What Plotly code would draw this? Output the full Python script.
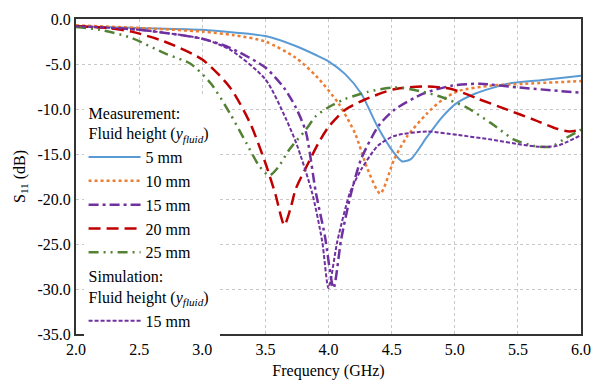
import plotly.graph_objects as go

f_5 = [2.0, 2.5, 3.0, 3.25, 3.5, 3.74, 3.9, 4.0, 4.13, 4.26, 4.39, 4.52, 4.58, 4.65, 4.78, 4.9, 5.01, 5.16, 5.42, 5.68, 6.0]
s_5 = [-0.8, -1.0, -1.2, -1.5, -1.9, -3.0, -4.0, -4.7, -6.1, -8.3, -12.0, -14.9, -15.8, -15.6, -13.1, -10.9, -9.4, -8.3, -7.2, -6.8, -6.3]

f_10 = [2.0, 2.5, 3.0, 3.25, 3.5, 3.74, 3.9, 4.08, 4.21, 4.31, 4.41, 4.52, 4.62, 4.78, 4.9, 5.03, 5.29, 5.55, 6.0]
s_10 = [-0.7, -1.0, -1.4, -1.8, -2.5, -4.3, -6.3, -9.4, -12.7, -16.7, -19.4, -15.6, -13.1, -10.5, -9.0, -8.0, -7.4, -7.2, -6.9]

f_15 = [2.0, 2.5, 3.0, 3.22, 3.5, 3.65, 3.74, 3.82, 3.9, 3.97, 4.04, 4.1, 4.18, 4.26, 4.4, 4.52, 4.75, 4.98, 5.2, 5.5, 6.0]
s_15 = [-0.8, -1.2, -2.2, -3.2, -5.4, -7.7, -9.8, -12.5, -19.3, -24.0, -29.9, -24.5, -19.3, -15.5, -11.8, -10.1, -8.3, -7.4, -7.2, -7.6, -8.2]

f_20 = [2.0, 2.25, 2.44, 2.7, 3.0, 3.22, 3.38, 3.5, 3.58, 3.65, 3.7, 3.74, 3.84, 3.92, 4.0, 4.13, 4.28, 4.52, 4.78, 4.98, 5.19, 5.42, 5.63, 5.81, 5.91, 6.0]
s_20 = [-0.8, -1.0, -1.4, -2.5, -4.5, -7.6, -11.6, -16.0, -19.5, -22.9, -21.0, -18.9, -16.0, -13.8, -12.0, -10.1, -9.0, -7.8, -7.5, -7.8, -8.9, -10.1, -11.2, -12.2, -12.5, -12.3]

f_25 = [2.0, 2.19, 2.44, 2.7, 2.91, 3.07, 3.22, 3.35, 3.45, 3.53, 3.6, 3.69, 3.82, 3.9, 4.0, 4.13, 4.31, 4.52, 4.72, 4.9, 5.09, 5.29, 5.47, 5.63, 5.76, 5.86, 6.0]
s_25 = [-0.9, -1.2, -2.1, -3.8, -5.0, -7.2, -10.5, -13.8, -16.3, -17.4, -16.5, -14.5, -12.3, -10.8, -9.8, -8.9, -8.1, -7.6, -8.0, -8.7, -9.8, -11.6, -13.4, -14.1, -14.2, -13.4, -12.3]

f_sim = [2.0, 2.5, 3.0, 3.22, 3.5, 3.66, 3.75, 3.87, 3.95, 4.0, 4.07, 4.17, 4.26, 4.39, 4.52, 4.78, 5.03, 5.29, 5.55, 5.68, 5.81, 6.0]
s_sim = [-0.8, -1.2, -2.2, -3.4, -6.7, -11.0, -14.0, -19.3, -24.7, -29.9, -24.7, -19.3, -16.7, -14.1, -13.0, -12.5, -12.9, -13.4, -14.0, -14.2, -14.1, -12.9]

x_ticks = [2.0, 2.5, 3.0, 3.5, 4.0, 4.5, 5.0, 5.5, 6.0]
x_labels = ["2.0", "2.5", "3.0", "3.5", "4.0", "4.5", "5.0", "5.5", "6.0"]
y_ticks = [0, -5, -10, -15, -20, -25, -30, -35]
y_labels = ["0.0", "-5.0", "-10.0", "-15.0", "-20.0", "-25.0", "-30.0", "-35.0"]

FONT = "Liberation Serif"
hdr = "Fluid height (<i>y<sub>fluid</sub></i>)"

fig = go.Figure()
meas = [
    (f_5, s_5, "5 mm", "#5B9BD5", "solid", 2),
    (f_10, s_10, "10 mm", "#ED7D31", "dot", 2.5),
    (f_15, s_15, "15 mm", "#7030A0", "10px,4px,3px,4px", 2.5),
    (f_20, s_20, "20 mm", "#C00000", "12px,6px", 2.5),
    (f_25, s_25, "25 mm", "#548235", "10px,5px,2px,5px,2px,5px", 2.5),
]
for fx, sy, name, col, dash, w in meas:
    fig.add_trace(go.Scatter(
        x=fx, y=sy, name=name, mode="lines",
        line=dict(color=col, dash=dash, width=w, shape="spline", smoothing=0.7),
        legendgroup="meas",
        legendgrouptitle=dict(text="Measurement:<br>" + hdr),
    ))
fig.add_trace(go.Scatter(
    x=f_sim, y=s_sim, name="15 mm", mode="lines",
    line=dict(color="#7030A0", dash="4px,2px", width=2, shape="spline", smoothing=0.7),
    legendgroup="sim",
    legendgrouptitle=dict(text="Simulation:<br>" + hdr),
))

axis_common = dict(
    showgrid=True, gridcolor="#C8C8C8", griddash="dot", gridwidth=1,
    showline=True, linecolor="#333333", linewidth=2, mirror=True,
    ticks="", zeroline=False,
    tickfont=dict(family=FONT, size=16, color="black"),
)
fig.update_xaxes(range=[2.0, 6.0], tickvals=x_ticks, ticktext=x_labels,
                 title=dict(text="Frequency (GHz)", font=dict(family=FONT, size=16, color="black"), standoff=8),
                 **axis_common)
fig.update_yaxes(range=[-35, 0], tickvals=y_ticks, ticktext=y_labels,
                 title=dict(text="S<sub>11</sub> (dB)", font=dict(family=FONT, size=16, color="black"), standoff=8),
                 **axis_common)

fig.update_layout(
    width=602, height=388,
    margin=dict(l=76, r=11, t=14, b=54),
    paper_bgcolor="white", plot_bgcolor="white",
    font=dict(family=FONT, color="black"),
    legend=dict(
        x=0.015, y=0.757, xanchor="left", yanchor="top",
        bgcolor="white", borderwidth=0,
        font=dict(family=FONT, size=16, color="black"),
        grouptitlefont=dict(family=FONT, size=16, color="black"),
        tracegroupgap=0, itemwidth=52,
    ),
)

fig.write_html("out.html")
